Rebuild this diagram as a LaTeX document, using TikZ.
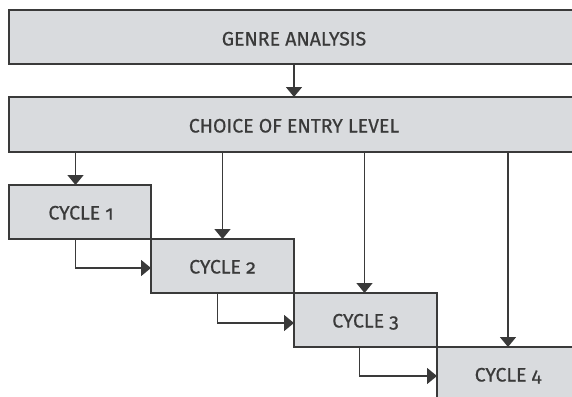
\documentclass[tikz,border=0pt]{standalone}
\usepackage{fontspec}
\newfontfamily\lblfont{Fira Sans}[Numbers=OldStyle,FakeBold=0.6]
\usetikzlibrary{arrows.meta}
\definecolor{boxfill}{HTML}{D9DBDE}
\definecolor{ink}{HTML}{3A3A3A}
\begin{document}
\begin{tikzpicture}[x=1pt,y=-1pt,
  box/.style={draw=ink,fill=boxfill,line width=1.6pt,rectangle,inner sep=0pt},
  lbl/.style={text=ink,anchor=base,inner sep=0pt,font=\lblfont\fontsize{19.5}{22}\selectfont},
  conn/.style={draw=ink,line width=1.6pt,-{Triangle[width=16pt,length=10pt]}}]
\useasboundingbox (0,0) rectangle (572,396);
\begin{scope}
\clip (0,0) rectangle (572,396);
% boxes
\draw[box] (9,10) rectangle (580,64);
\draw[box] (9,97) rectangle (580,152);
\draw[box] (9,185) rectangle (151,239);
\draw[box] (151,239) rectangle (294,293);
\draw[box] (294,293) rectangle (437,347);
\draw[box] (437,347) rectangle (580,402);
\end{scope}
% labels
\node[lbl] (genre) at (294,45.5) {GENRE ANALYSIS};
\node[lbl] (choice) at (294,132.5) {CHOICE OF ENTRY LEVEL};
\node[lbl] (c1) at (81,219.5) {CYCLE 1};
\node[lbl] (c2) at (222.5,273.5) {CYCLE 2};
\node[lbl] (c3) at (365.5,327.5) {CYCLE 3};
\node[lbl] (c4) at (508,381.5) {CYCLE 4};
% anchor coordinates on box edges
\coordinate (gb) at (294,64);
\coordinate (ct) at (294,97);
\coordinate (cb1) at (75.5,152);
\coordinate (cb2) at (222.5,152);
\coordinate (cb3) at (364.5,152);
\coordinate (cb4) at (508,152);
\coordinate (t1) at (75.5,185);
\coordinate (t2) at (222.5,239);
\coordinate (t3) at (364.5,293);
\coordinate (t4) at (508,347);
\coordinate (b1) at (75.5,239);
\coordinate (b2) at (217.5,293);
\coordinate (b3) at (359.5,347);
\coordinate (l2) at (151,268);
\coordinate (l3) at (294,323);
\coordinate (l4) at (437,376);
\draw[conn] (gb) -- (ct);
\draw[conn] (cb1) -- (t1);
\draw[conn] (cb2) -- (t2);
\draw[conn] (cb3) -- (t3);
\draw[conn] (cb4) -- (t4);
\draw[conn] (b1) |- (l2);
\draw[conn] (b2) |- (l3);
\draw[conn] (b3) |- (l4);
\end{tikzpicture}
\end{document}
